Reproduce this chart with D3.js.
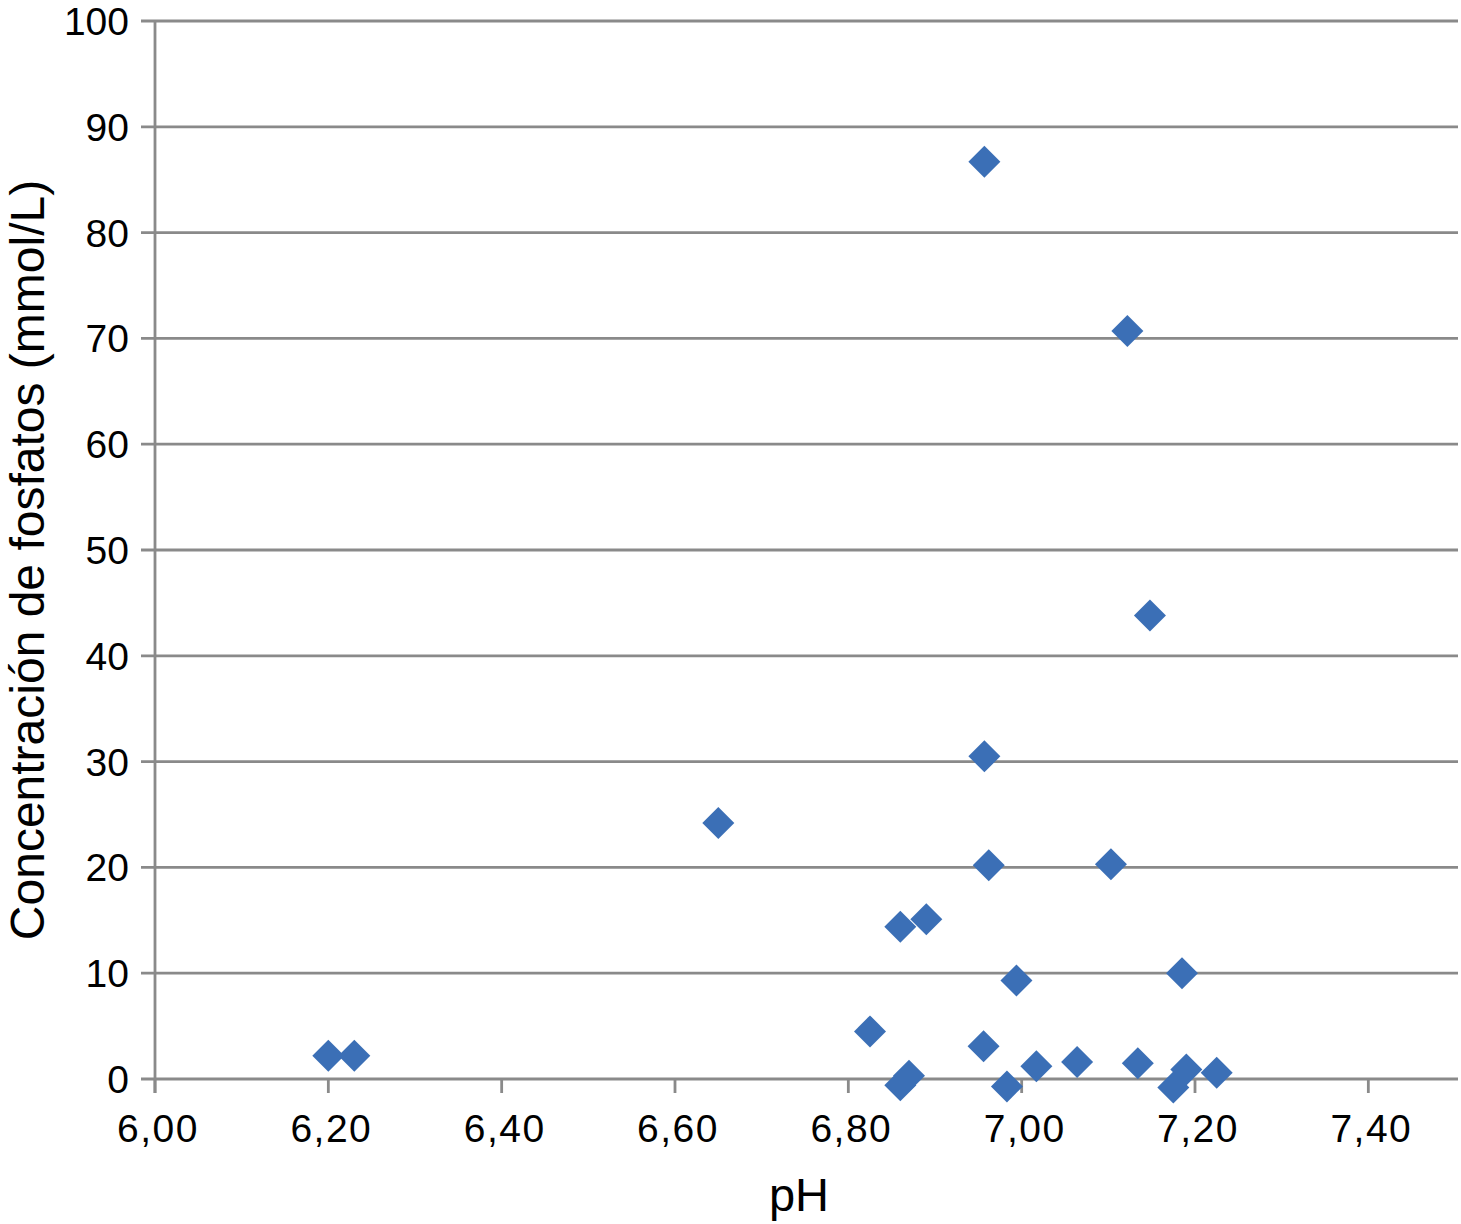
<!DOCTYPE html>
<html>
<head>
<meta charset="utf-8">
<script src="https://cdn.jsdelivr.net/npm/d3@7"></script>
<style>
  html, body { margin: 0; padding: 0; background: #fff; }
  text { font-family: "Liberation Sans", Arial, sans-serif; fill: #000; }
</style>
</head>
<body>
<div id="sp"></div>
<script>
// pH values and phosphate concentration (mmol/L)
var ph = [6.20, 6.23, 6.65, 6.825, 6.86, 6.89, 6.86, 6.87, 6.957, 6.957, 6.962, 6.994,
          6.956, 6.983, 7.017, 7.064, 7.122, 7.148, 7.103, 7.185, 7.134, 7.175, 7.19, 7.225];
var fosfatos = [2.2, 2.2, 24.2, 4.5, 14.4, 15.1, -0.6, 0.3, 86.7, 30.5, 20.2, 9.3,
                3.1, -0.7, 1.2, 1.6, 70.7, 43.8, 20.3, 10.0, 1.5, -0.8, 0.9, 0.6];

var xTicks = [6.0, 6.2, 6.4, 6.6, 6.8, 7.0, 7.2, 7.4];
var yTicks = [0, 10, 20, 30, 40, 50, 60, 70, 80, 90, 100];

var x_label = "pH";
var y_label = "Concentración de fosfatos (mmol/L)";

var width = 1461, height = 1224;
var gridColor = "#8a8a8a";

var svg = d3.select("#sp")
  .append("svg")
  .attr("width", width)
  .attr("height", height);

var x = d3.scaleLinear()
  .domain([6.0, 7.5])
  .range([155, 1455]);

var y = d3.scaleLinear()
  .domain([0, 100])
  .range([1079, 21]);

var fmt = function(v) { return d3.format(".2f")(v).replace(".", ","); };

// horizontal grid lines (with little ticks left of the axis)
svg.append("g")
  .selectAll("line")
  .data(yTicks)
  .enter().append("line")
  .attr("x1", 141)
  .attr("x2", 1458)
  .attr("y1", d => y(d))
  .attr("y2", d => y(d))
  .attr("stroke", gridColor)
  .attr("stroke-width", 2.8);

// y axis line
svg.append("line")
  .attr("x1", x(6.0)).attr("x2", x(6.0))
  .attr("y1", y(100)).attr("y2", y(0) + 14)
  .attr("stroke", gridColor)
  .attr("stroke-width", 2.8);

// x ticks
svg.append("g")
  .selectAll("line")
  .data(xTicks)
  .enter().append("line")
  .attr("x1", d => x(d)).attr("x2", d => x(d))
  .attr("y1", y(0)).attr("y2", y(0) + 14)
  .attr("stroke", gridColor)
  .attr("stroke-width", 2.8);

// y tick labels
svg.append("g")
  .selectAll("text")
  .data(yTicks)
  .enter().append("text")
  .attr("x", 129)
  .attr("y", d => y(d) + 14)
  .attr("text-anchor", "end")
  .style("font-size", "39px")
  .text(d => d);

// x tick labels
svg.append("g")
  .selectAll("text")
  .data(xTicks)
  .enter().append("text")
  .attr("x", d => x(d) + 3)
  .attr("y", 1142)
  .attr("text-anchor", "middle")
  .style("font-size", "39px")
  .style("letter-spacing", "1.5px")
  .text(d => fmt(d));

// axis titles
svg.append("text")
  .attr("x", 799)
  .attr("y", 1211)
  .attr("text-anchor", "middle")
  .style("font-size", "47px")
  .text(x_label);

svg.append("text")
  .attr("transform", "translate(44,560) rotate(-90)")
  .attr("text-anchor", "middle")
  .style("font-size", "48px")
  .text(y_label);

// diamonds
var diamond = d3.symbol().type(d3.symbolSquare).size(512);

svg.append("g")
  .selectAll("path")
  .data(d3.range(ph.length))
  .enter().append("path")
  .attr("d", diamond)
  .attr("transform", i => "translate(" + x(ph[i]) + "," + y(fosfatos[i]) + ") rotate(45)")
  .attr("fill", "#3b6fb6");
</script>
</body>
</html>
